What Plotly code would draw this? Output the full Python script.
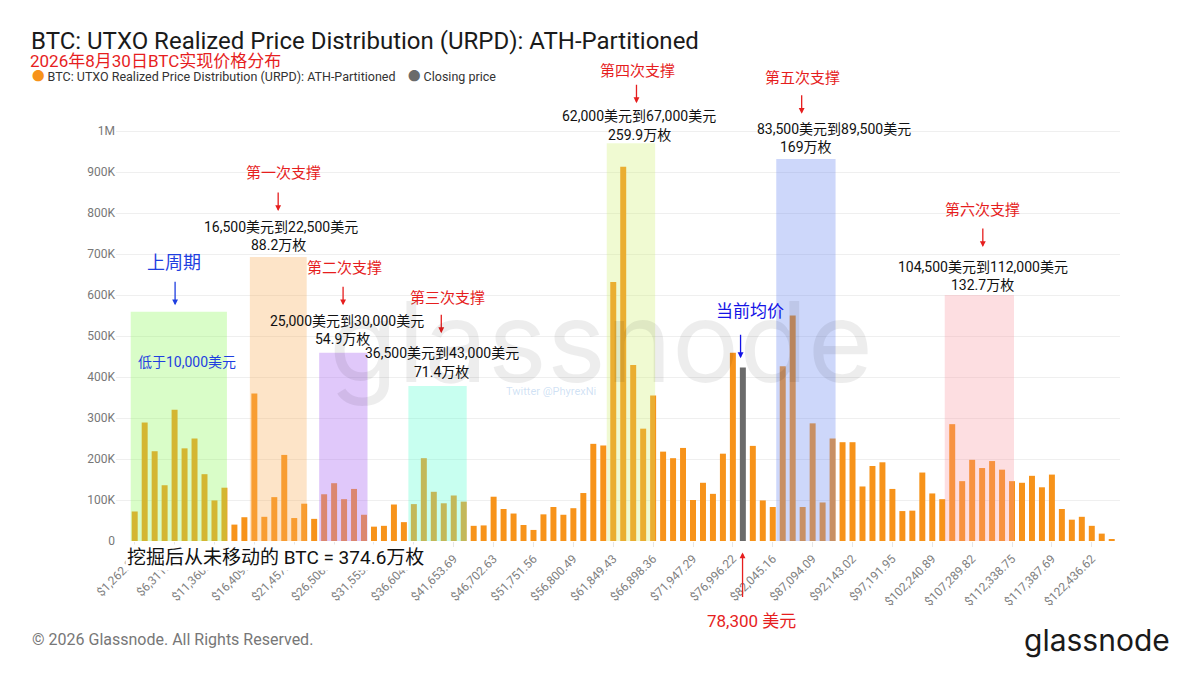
import plotly.graph_objects as go

# URPD bins (bin index, width ~1262.23 USD) and supply per bin
bins = list(range(1, 100))
supply = [
    72000, 289000, 219000, 136000, 320000, 226000, 250000, 163000, 99000, 130000,
    40000, 58000, 360000, 59000, 107000, 210000, 56000, 91000, 54000, 114000,
    141000, 102000, 127000, 64000, 35000, 37000, 89000, 46000, 90000, 202000,
    120000, 92000, 111000, 96000, 37000, 38000, 108000, 78000, 67000, 39000,
    27000, 65000, 83000, 64000, 80000, 117000, 237000, 233000, 632000, 913000,
    429000, 274000, 355000, 218000, 202000, 227000, 100000, 142000, 115000, 213000,
    459000, 423000, 232000, 99000, 83000, 426000, 550000, 83000, 287000, 94000,
    250000, 241000, 241000, 133000, 183000, 192000, 127000, 73000, 74000, 167000,
    116000, 102000, 285000, 146000, 198000, 178000, 195000, 174000, 146000, 142000,
    159000, 131000, 162000, 78000, 52000, 59000, 37000, 18000, 3000,
]
close_bin = 62

tick_bins = list(range(1, 100, 4))
tick_labels = [
    "$1,262.23", "$6,311.17", "$11,360.10", "$16,409.03", "$21,457.96",
    "$26,506.90", "$31,555.83", "$36,604.76", "$41,653.69", "$46,702.63",
    "$51,751.56", "$56,800.49", "$61,849.43", "$66,898.36", "$71,947.29",
    "$76,996.22", "$82,045.16", "$87,094.09", "$92,143.02", "$97,191.95",
    "$102,240.89", "$107,289.82", "$112,338.75", "$117,387.69", "$122,436.62",
]
ytick_vals = [0, 100000, 200000, 300000, 400000, 500000, 600000, 700000, 800000, 900000, 1000000]
ytick_text = ["0", "100K", "200K", "300K", "400K", "500K", "600K", "700K", "800K", "900K", "1M"]

# support zones: (bin from, bin to, top, colour)
zones = [
    (0.6, 10.25, 559000, "rgba(146,249,98,0.35)"),
    (12.55, 18.25, 693000, "rgba(249,178,98,0.35)"),
    (19.5, 24.35, 459000, "rgba(177,117,242,0.40)"),
    (28.45, 34.3, 378000, "rgba(98,255,212,0.35)"),
    (48.35, 53.2, 970000, "rgba(205,238,105,0.30)"),
    (65.35, 71.3, 932000, "rgba(112,141,241,0.35)"),
    (82.25, 89.2, 600000, "rgba(248,145,155,0.30)"),
]

Y_TOP = 1075700
ORANGE = "#f7931a"
GREY = "#6b6b6b"
RED = "#e61e1e"
BLUE = "#1f3fe0"
FONT = "Roboto, 'Noto Sans CJK SC', sans-serif"

urpd_x = [b for b in bins if b != close_bin]
urpd_y = [v for b, v in zip(bins, supply) if b != close_bin]
close_y = [v for b, v in zip(bins, supply) if b == close_bin]

fig = go.Figure()
fig.add_trace(go.Bar(x=urpd_x, y=urpd_y, width=0.6, marker=dict(color=ORANGE, line_width=0),
                     name="BTC: UTXO Realized Price Distribution (URPD): ATH-Partitioned"))
fig.add_trace(go.Bar(x=[close_bin], y=close_y, width=0.6, marker=dict(color=GREY, line_width=0),
                     name="Closing price"))

for x0, x1, top, col in zones:
    fig.add_shape(type="rect", xref="x", yref="y", x0=x0, x1=x1, y0=0, y1=top,
                  fillcolor=col, line_width=0, layer="above")

# text labels (x in bins, y in supply units)
labels = [
    ("上周期", 4.95, 680000, BLUE, 18),
    ("低于10,000美元", 6.25, 436000, BLUE, 14),
    ("第一次支撑", 15.9, 897000, RED, 15),
    ("16,500美元到22,500美元", 15.69, 766000, "#111", 14),
    ("88.2万枚", 15.39, 722000, "#111", 14),
    ("第二次支撑", 22.0, 666000, RED, 15),
    ("25,000美元到30,000美元", 22.3, 536000, "#111", 14),
    ("54.9万枚", 21.8, 492000, "#111", 14),
    ("第三次支撑", 32.36, 592000, RED, 15),
    ("36,500美元到43,000美元", 31.85, 458000, "#111", 14),
    ("71.4万枚", 31.75, 412000, "#111", 14),
    ("第四次支撑", 51.43, 1146000, RED, 15),
    ("62,000美元到67,000美元", 51.63, 1037000, "#111", 14),
    ("259.9万枚", 51.63, 990000, "#111", 14),
    ("第五次支撑", 68.0, 1129000, RED, 15),
    ("83,500美元到89,500美元", 71.1, 1005000, "#111", 14),
    ("169万枚", 68.3, 961000, "#111", 14),
    ("当前均价", 62.67, 561000, "#1414e6", 17),
    ("第六次支撑", 86.07, 807000, RED, 15),
    ("104,500美元到112,000美元", 86.07, 668000, "#111", 14),
    ("132.7万枚", 86.07, 624000, "#111", 14),
    ("78,300 美元", 62.87, -194000, RED, 17),
]
for text, x, y, col, size in labels:
    fig.add_annotation(x=x, y=y / Y_TOP, xref="x", yref="paper", yanchor="middle",
                       text=text, showarrow=False,
                       font=dict(family=FONT, size=size, color=col))

# arrows: head position, tail offset in px, colour
arrows = [
    (5.05, 575000, -25, BLUE),
    (15.39, 805000, -20, RED),
    (21.9, 575000, -20, RED),
    (31.75, 507000, -20, RED),
    (51.33, 1068000, -20, RED),
    (67.9, 1042000, -20, RED),
    (61.77, 446000, -25, "#1414e6"),
    (86.07, 717000, -20, RED),
    (61.97, -28000, 46, RED),
]
for x, y, ay, col in arrows:
    fig.add_annotation(x=x, y=y / Y_TOP, xref="x", yref="paper", ax=0, ay=ay, text="",
                       showarrow=True, arrowhead=2, arrowsize=0.9, arrowwidth=1.3, arrowcolor=col)

# watermark
fig.add_annotation(x=47.8, y=487000 / Y_TOP, xref="x", yref="paper", yanchor="middle",
                   text="glassnode", showarrow=False,
                   font=dict(family="Inter, sans-serif", size=112, color="rgba(0,0,0,0.07)"))
fig.add_annotation(x=42.8, y=365000 / Y_TOP, xref="x", yref="paper", yanchor="middle",
                   text="Twitter @PhyrexNi", showarrow=False,
                   font=dict(family=FONT, size=11, color="rgba(120,170,225,0.35)"))

fig.add_annotation(x=15.14, y=-40000 / Y_TOP, xref="x", yref="paper", yanchor="middle",
                   text="挖掘后从未移动的 BTC = 374.6万枚", showarrow=False, bgcolor="white",
                   font=dict(family=FONT, size=19, color="#111"))

# legend drawn as text with round markers
legend_items = [
    (-0.0857, "<span style='color:%s'>●</span> BTC: UTXO Realized Price Distribution (URPD): ATH-Partitioned" % ORANGE),
    (0.2888, "<span style='color:%s'>●</span> Closing price" % GREY),
]
for x, text in legend_items:
    fig.add_annotation(x=x, y=1.0544, xref="paper", yref="paper", xanchor="left", yanchor="middle",
                       text=text, showarrow=False, font=dict(family=FONT, size=12.5, color="#333"))

fig.add_annotation(x=-0.088, y=1.0885, xref="paper", yref="paper", xanchor="left", yanchor="middle",
                   text="2026年8月30日BTC实现价格分布", showarrow=False,
                   font=dict(family=FONT, size=17, color=RED))
fig.add_annotation(x=-0.0857, y=-0.223, xref="paper", yref="paper", xanchor="left", yanchor="middle",
                   text="© 2026 Glassnode. All Rights Reserved.", showarrow=False,
                   font=dict(family=FONT, size=16, color="#777"))
fig.add_annotation(x=1.0518, y=-0.2255, xref="paper", yref="paper", xanchor="right", yanchor="middle",
                   text="glassnode", showarrow=False,
                   font=dict(family="Inter, sans-serif", size=30, color="#1a1a1a"))

fig.update_xaxes(range=[-0.877, 99.83], tickvals=tick_bins, ticktext=tick_labels, tickangle=-45,
                 showgrid=False, zeroline=False, showline=False,
                 ticks="outside", ticklen=5, tickcolor="#e6e6e6",
                 tickfont=dict(family=FONT, size=12, color="#808080"))
fig.update_yaxes(range=[0, Y_TOP], tickvals=ytick_vals, ticktext=ytick_text,
                 showgrid=True, gridcolor="#efefef", zeroline=False, showline=False,
                 tickfont=dict(family=FONT, size=12, color="#777"))

fig.update_layout(
    width=1200, height=675,
    margin=dict(l=116, r=80, t=100, b=134, autoexpand=False),
    paper_bgcolor="white", plot_bgcolor="white",
    barmode="overlay",
    showlegend=False,
    title=dict(text="BTC: UTXO Realized Price Distribution (URPD): ATH-Partitioned",
               x=31 / 1200, xref="container", xanchor="left",
               y=1 - 41 / 675, yref="container", yanchor="middle",
               font=dict(family=FONT, size=24, color="#1a1a1a")),
    font=dict(family=FONT),
)

# drop the browser's default page margin so the figure sits at the top-left corner
fig.write_html("out.html", config={"displayModeBar": False},
               post_script="document.body.style.margin='0';")
